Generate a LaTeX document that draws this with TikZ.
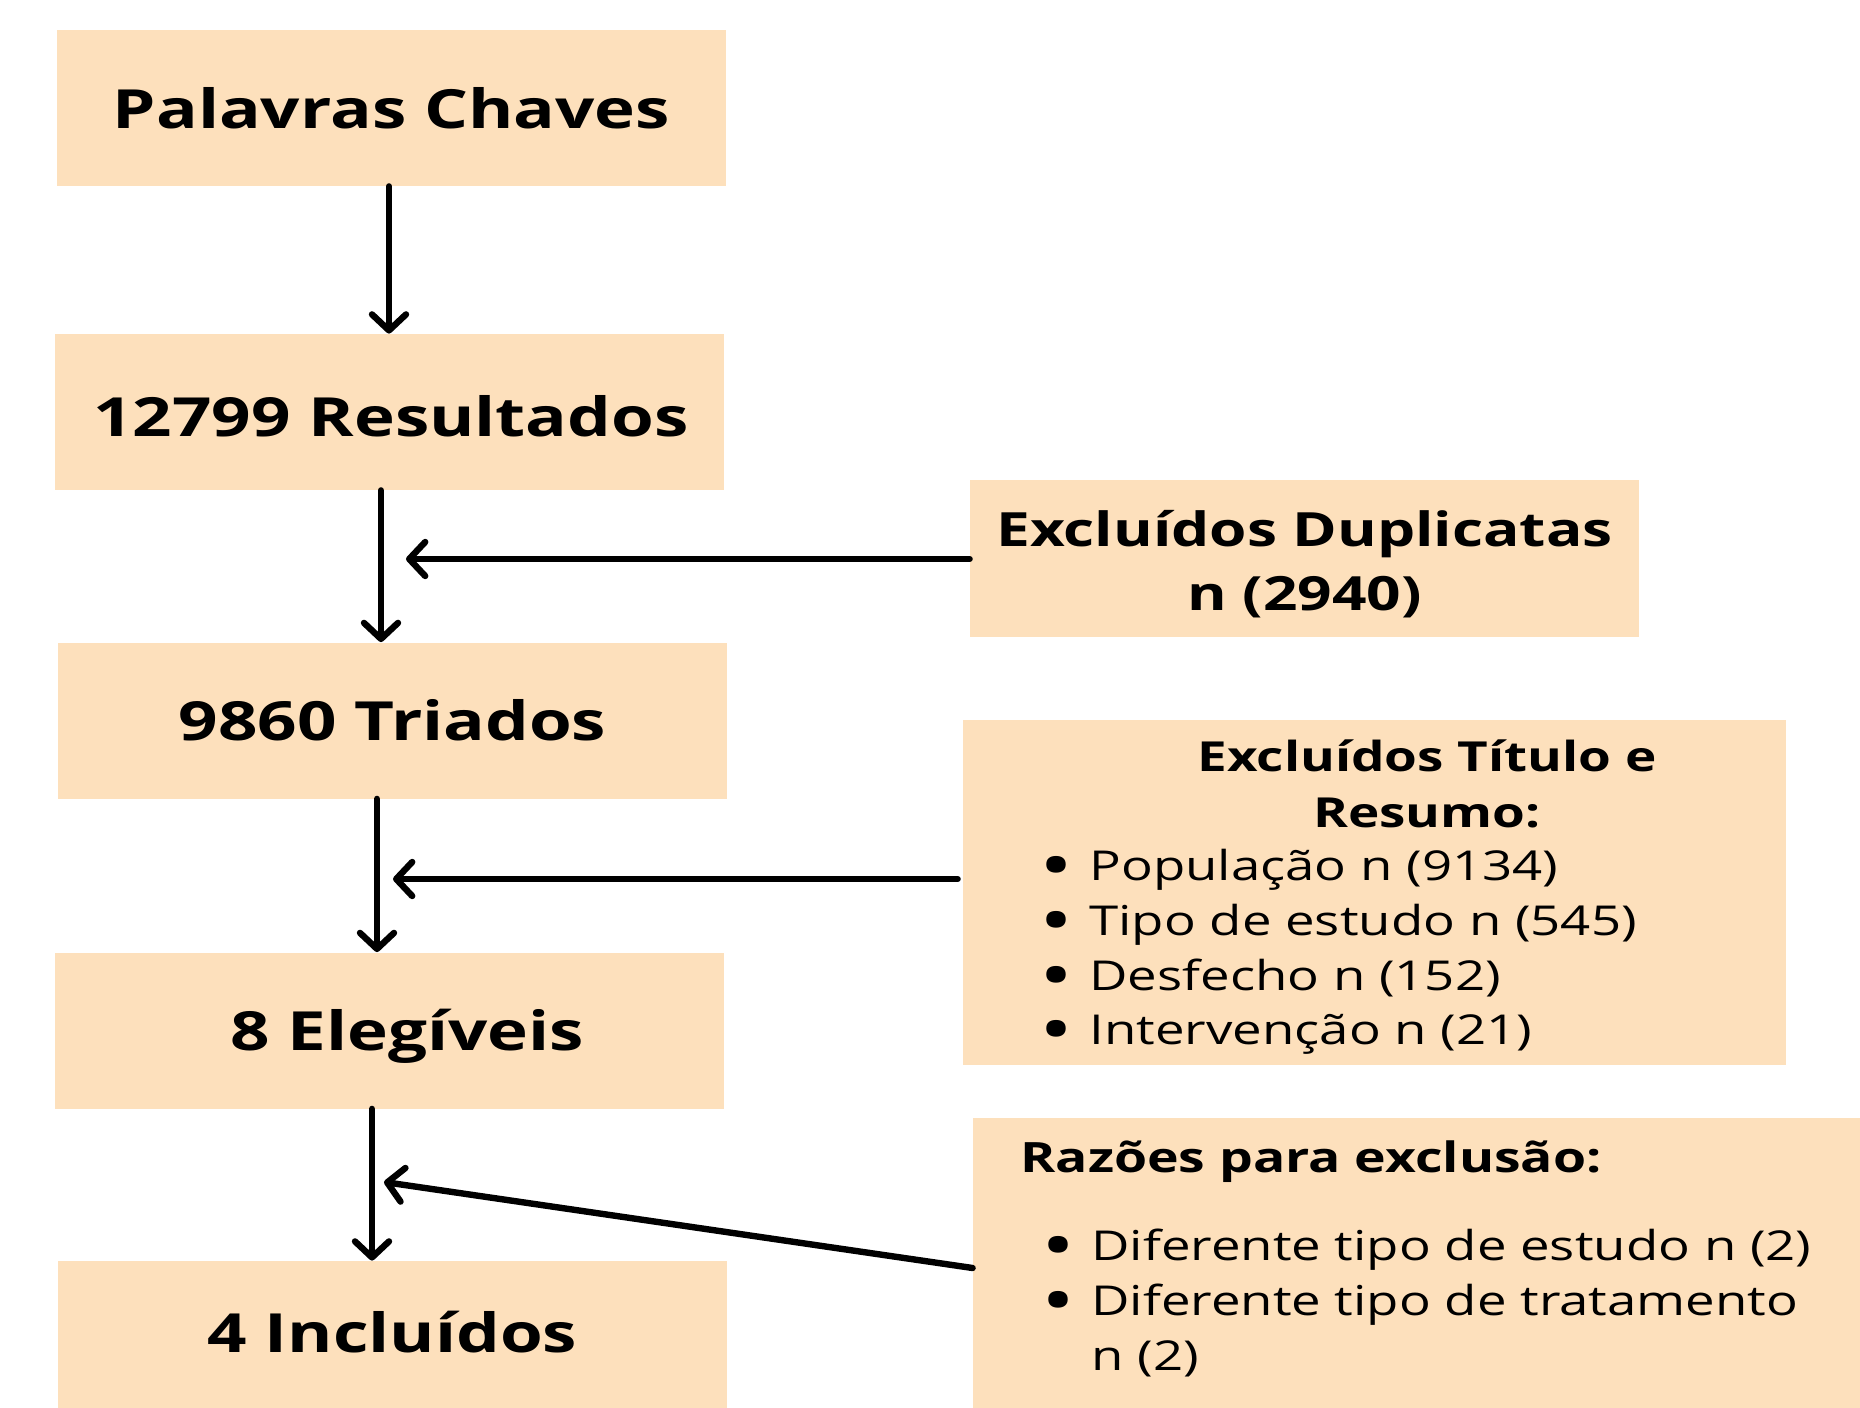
\documentclass[tikz,border=0pt]{standalone}
\usepackage{fontspec}
\setmainfont{Open Sans}[FakeStretch=1.28]
\usetikzlibrary{arrows.meta}
\definecolor{peach}{HTML}{FDE0BC}
\tikzset{
  box/.style={fill=peach, inner sep=0pt, minimum width=334.5pt, minimum height=78pt},
  boxtxt/.style={inner sep=0pt, font=\bfseries\fontsize{27}{32}\selectfont},
  sidebox/.style={fill=peach, inner sep=0pt},
  arr/.style={line width=3.2pt, line cap=round,
    -{Straight Barb[length=8pt,width=17pt,line cap=round,line join=round]}},
  bodytxt/.style={inner sep=0pt, align=left, font=\fontsize{20.6}{27.3}\selectfont},
  headtxt/.style={inner sep=0pt, align=center, font=\bfseries\fontsize{20.7}{28}\selectfont}
}
\newcommand{\blt}{\makebox[23pt][l]{\raisebox{-2pt}{\fontsize{27}{27}\selectfont\bfseries •}}}
\newcommand{\nob}{\makebox[23pt][l]{}}
\begin{document}
\begin{tikzpicture}[x=0.5pt,y=-0.5pt]
\useasboundingbox (0,0) rectangle (1860,1408);
\clip (0,0) rectangle (1860,1408);
\fill[white] (0,0) rectangle (1860,1408);
% left column
\node[box] (b1) at (391.5,108) {};
\node[boxtxt] (t1) at (391.5,108) {Palavras Chaves};
\node[box] (b2) at (389,412) {};
\node[boxtxt] (t2) at (391,416) {12799 Resultados};
\node[box] (b3) at (392.5,720.5) {};
\node[boxtxt] (t3) at (392.5,720.5) {9860 Triados};
\node[box] (b4) at (389,1030.5) {};
\node[boxtxt] (t4) at (407,1036) {8 Elegíveis};
\node[box, minimum height=80pt] (b5) at (392.5,1341) {};
\node[boxtxt] (t5) at (392.5,1332) {4 Incluídos};
% right boxes
\node[sidebox, minimum width=334.5pt, minimum height=78.5pt] (dup) at (1304.5,558.5) {};
\node[inner sep=0pt, align=center, font=\bfseries\fontsize{23.6}{32}\selectfont] (tdup) at (1304.5,564) {Excluídos Duplicatas\\n (2940)};
\node[sidebox, minimum width=411.5pt, minimum height=172.5pt] (tit) at (1374.5,892.5) {};
\node[headtxt] (ttit) at (1427,784) {Excluídos Título e\\Resumo:};
\node[bodytxt, anchor=west] (ltit) at (1043,952) {\blt População n (9134)\\\blt Tipo de estudo n (545)\\\blt Desfecho n (152)\\\blt Intervenção n (21)};
\node[sidebox, minimum width=443.5pt, minimum height=151pt] (raz) at (1416.5,1269) {};
\node[inner sep=0pt, anchor=west, font=\bfseries\fontsize{20.9}{26}\selectfont] (traz) at (1020,1162) {Razões para exclusão:};
\node[bodytxt, anchor=west] (lraz) at (1045,1303) {\blt Diferente tipo de estudo n (2)\\\blt Diferente tipo de tratamento\\\nob n (2)};
% connectors
\coordinate (a1) at (389,0);
\coordinate (a2) at (381,0);
\coordinate (a3) at (377,0);
\coordinate (a4) at (372,0);
\draw[arr] (b1.south -| a1) -- (b2.north -| a1);
\draw[arr] (b2.south -| a2) -- (b3.north -| a2);
\draw[arr] (b3.south -| a3) -- (b4.north -| a3);
\draw[arr] (b4.south -| a4) -- (b5.north -| a4);
\coordinate (s1) at (406,559);
\coordinate (s2) at (393,879);
\coordinate (s3) at (384,1182);
\draw[arr] (dup.west |- s1) -- (s1);
\draw[arr] (tit.west |- s2) ++(-5,0) -- (s2);
\draw[arr] (raz.west |- 0,1268) -- (s3);
\end{tikzpicture}
\end{document}
